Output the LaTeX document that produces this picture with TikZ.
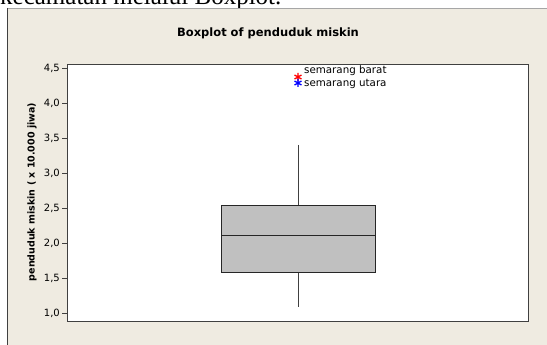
\documentclass[tikz,border=0pt]{standalone}
\usepackage{fontspec}
\newfontfamily\tah{DejaVu Sans}
\newfontfamily\tms{Liberation Serif}
\usetikzlibrary{plotmarks}
\definecolor{beige}{RGB}{239,235,225}
\definecolor{frameln}{RGB}{64,64,64}
\definecolor{boxfill}{RGB}{192,192,192}
\tikzset{
  ticklbl/.style={font=\tah\fontsize{10}{10}\selectfont, anchor=east, inner sep=0pt},
  outlbl/.style={font=\tah\fontsize{10.3}{11}\selectfont, anchor=base west, inner sep=0pt},
  starmk/.style={mark=asterisk, mark size=4pt, mark options={line width=1.3pt}},
}
\begin{document}
\begin{tikzpicture}[x=1pt,y=-1pt]
\useasboundingbox (0,0) rectangle (547,345);
% clipped page text above
\begin{scope}
\clip (0,0) rectangle (547,8);
\node[anchor=base west, inner sep=0pt, font=\tms\fontsize{25}{25}\selectfont] (top) at (0,5) {kecamatan melalui Boxplot.};
\end{scope}
% beige panel
\fill[beige] (7,8) rectangle (547,345);
\draw[gray!70, line width=0.8pt] (7,8) -- (547,8);
\draw[frameln, line width=1pt] (7,8) -- (7,345);
% title
\node[font=\tah\bfseries\fontsize{11.5}{13}\selectfont] (title) at (268,33) {Boxplot of penduduk miskin};
% plot area
\filldraw[fill=white, draw=frameln, line width=0.8pt] (67,64) rectangle (528,321);
% y axis ticks
\foreach \v/\l in {1/{1,0},1.5/{1,5},2/{2,0},2.5/{2,5},3/{3,0},3.5/{3,5},4/{4,0},4.5/{4,5}}{
  \draw[frameln, line width=0.7pt] (62,{313-70*(\v-1)}) -- (67,{313-70*(\v-1)});
  \node[ticklbl] at (60,{313-70*(\v-1)}) {\l};
}
\node[rotate=90, font=\tah\bfseries\fontsize{9.5}{11}\selectfont] (ylab) at (32,192) {penduduk miskin ( x 10.000 jiwa)};
% whiskers
\coordinate (wtop) at (298,145);
\coordinate (q3) at (298,205.7);
\coordinate (q1) at (298,272);
\coordinate (wbot) at (298,306.7);
\draw[frameln, line width=0.9pt] (wtop) -- (q3);
\draw[frameln, line width=0.9pt] (q1) -- (wbot);
% box
\filldraw[fill=boxfill, draw=black!85, line width=0.8pt] (221,205.7) rectangle (375,272);
\draw[black!85, line width=0.8pt] (221,235) -- (375,235);
% outliers
\draw[red] plot[starmk] coordinates {(298,77)};
\draw[blue] plot[starmk] coordinates {(298,83)};
\node[outlbl] (l1) at (304,73.3) {semarang barat};
\node[outlbl] (l2) at (304,86.7) {semarang utara};
\end{tikzpicture}
\end{document}
